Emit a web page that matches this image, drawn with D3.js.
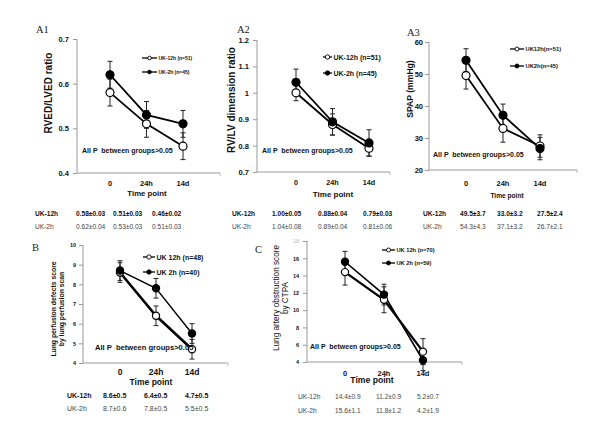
<!DOCTYPE html>
<html><head><meta charset="utf-8">
<script src="https://cdn.jsdelivr.net/npm/d3@7"></script>
<style>body{margin:0;background:#fff}svg{display:block;font-family:"Liberation Sans",Arial,sans-serif}</style>
</head><body><svg id="c" width="600" height="433"></svg>
<script>
const timePoints = ["0","24h","14d"];
// A1
const a1UK12 = [0.58,0.51,0.46], a1UK12err = [0.03,0.03,0.03];
const a1UK2 = [0.62,0.53,0.51], a1UK2err = [0.03,0.03,0.03];
const a1Ticks = [0.4,0.5,0.6,0.7];
// A2
const a2UK12 = [1.00,0.88,0.79], a2UK12err = [0.03,0.04,0.03];
const a2UK2 = [1.04,0.89,0.81], a2UK2err = [0.05,0.05,0.05];
const a2Ticks = [0.7,0.8,0.9,1,1.1,1.2];
// A3
const a3UK12 = [49.5,33.0,27.5], a3UK12err = [4.2,4.3,3.5];
const a3UK2 = [54.3,37.1,26.7], a3UK2err = [3.6,3.5,3.5];
const a3Ticks = [20,30,40,50,60];
// B
const bUK12 = [8.6,6.4,4.7], bUK12err = [0.5,0.5,0.5];
const bUK2 = [8.7,7.8,5.5], bUK2err = [0.5,0.5,0.5];
const bTicks = [4,5,6,7,8,9,10];
// C
const cUK12 = [14.4,11.2,5.2], cUK12err = [1.5,1.5,1.5];
const cUK2 = [15.6,11.8,4.2], cUK2err = [1.2,1.2,1.2];
const cTicks = [4,6,8,10,12,14,16,18];
// tables
const tA1 = [["UK-12h","0.58±0.03","0.51±0.03","0.46±0.02"],["UK-2h","0.62±0.04","0.53±0.03","0.51±0.03"]];
const tA2 = [["UK-12h","1.00±0.05","0.88±0.04","0.79±0.03"],["UK-2h","1.04±0.08","0.89±0.04","0.81±0.06"]];
const tA3 = [["UK-12h","49.5±3.7","33.0±3.2","27.5±2.4"],["UK-2h","54.3±4.3","37.1±3.2","26.7±2.1"]];
const tB = [["UK-12h","8.6±0.5","6.4±0.5","4.7±0.5"],["UK-2h","8.7±0.6","7.8±0.5","5.5±0.5"]];
const tC = [["UK-12h","14.4±0.9","11.2±0.9","5.2±0.7"],["UK-2h","15.6±1.1","11.8±1.2","4.2±1.9"]];

const svg = d3.select("#c");

function panel(o){
  const g = svg.append("g");
  const y = d3.scaleLinear().domain(o.ydom).range([o.y1,o.y0]);
  const x = d3.scalePoint().domain(timePoints).range([o.px[0],o.px[2]]);
  const ya = d3.axisLeft(y).tickValues(o.ticks).tickSize(4).tickFormat(o.fmt||d3.format(""));
  const yg = g.append("g").attr("transform",`translate(${o.ax},0)`).call(ya);
  yg.select(".domain").attr("stroke","#999").attr("d",`M0,${o.y0}V${o.y1}`);
  yg.selectAll(".tick line").attr("stroke","#999");
  yg.selectAll(".tick text").attr("font-size",o.tfs).attr("font-weight","bold").attr("fill","#111").attr("x",-o.tpad)
    .attr("font-family","'Liberation Sans',Arial,sans-serif");
  if(o.hideTop) yg.selectAll(".tick text").filter(d=>d===o.hideTop).attr("fill","#ccc");
  g.append("line").attr("x1",o.ax).attr("x2",o.xend).attr("y1",o.y1).attr("y2",o.y1).attr("stroke","#999");
  g.append("line").attr("x1",o.xend).attr("x2",o.xend).attr("y1",o.y1).attr("y2",o.y1+3).attr("stroke","#bbb");
  timePoints.forEach((t,i)=>{
    g.append("text").attr("x",x(t)).attr("y",o.tly).attr("text-anchor","middle")
     .attr("font-size",o.xfs).attr("font-weight","bold").attr("fill","#111").text(t);
  });
  g.append("text").attr("x",o.tpx).attr("y",o.tpy).attr("text-anchor","middle").attr("font-size",o.tpfs)
   .attr("font-weight","bold").attr("fill","#111").text("Time point");
  const yl = g.append("text").attr("transform",`translate(${o.ylx},${o.yly}) rotate(-90)`).attr("text-anchor","middle")
   .attr("font-size",o.ylfs).attr("font-weight",o.ylw||"bold").attr("fill","#111");
  o.ylab.forEach((s,i)=>yl.append("tspan").attr("x",0).attr("dy",i?o.ylfs*1.15:0).text(s));
  g.append("text").attr("x",o.letx).attr("y",o.lety).attr("font-family","'Liberation Serif',serif").attr("font-size",10.5).attr("fill","#222").text(o.letter);
  const series = [
    {v:o.s12,e:o.e12,fill:"#fff",w:o.w12||1.8},
    {v:o.s2,e:o.e2,fill:"#000",w:o.w2||1.8}
  ];
  series.forEach(s=>{
    s.v.forEach((v,i)=>{
      const cx=x(timePoints[i]);
      g.append("line").attr("x1",cx).attr("x2",cx).attr("y1",y(v-s.e[i])).attr("y2",y(v+s.e[i])).attr("stroke","#222").attr("stroke-width",1);
      [v-s.e[i],v+s.e[i]].forEach(w=>g.append("line").attr("x1",cx-2.5).attr("x2",cx+2.5).attr("y1",y(w)).attr("y2",y(w)).attr("stroke","#222").attr("stroke-width",1));
    });
  });
  series.forEach(s=>{
    g.append("path").attr("d",d3.line().x((d,i)=>x(timePoints[i])).y(d=>y(d))(s.v)).attr("fill","none").attr("stroke","#000").attr("stroke-width",s.w);
  });
  series.forEach(s=>{
    g.selectAll(null).data(s.v).enter().append("circle").attr("cx",(d,i)=>x(timePoints[i])).attr("cy",d=>y(d))
      .attr("r",o.r||4).attr("fill",s.fill).attr("stroke","#000").attr("stroke-width",1.2);
  });
  o.leg.forEach((l,i)=>{
    const ly=o.legy[i];
    g.append("line").attr("x1",o.legx).attr("x2",o.legx+o.legw).attr("y1",ly).attr("y2",ly).attr("stroke","#000").attr("stroke-width",1.3);
    g.append("circle").attr("cx",o.legx+o.legw/2).attr("cy",ly).attr("r",o.legr||2).attr("fill",i?"#000":"#fff").attr("stroke","#000").attr("stroke-width",0.9);
    g.append("text").attr("x",o.legx+o.legw+1.5).attr("y",ly+o.legfs*0.36).attr("font-size",o.legfs).attr("font-weight","bold").attr("fill","#111").text(l);
  });
  g.append("text").attr("x",o.px0).attr("y",o.py0).attr("font-size",o.pfs||7).attr("font-weight","bold").attr("fill","#111")
   .attr("xml:space","preserve").style("white-space","pre").text("All P  between groups>0.05");
  o.table.forEach((row,ri)=>{
    row.forEach((c,ci)=>{
      g.append("text").attr("x",o.tx[ci]).attr("y",o.ty[ri]).attr("font-size",o.tbfs||6.6)
       .attr("font-weight",(ri===0&&o.tbold)?"bold":"normal").attr("fill",(ri===0&&o.tbold)?"#111":"#444").text(c);
    });
  });
}

panel({letter:"A1",letx:36,lety:33,ydom:[0.4,0.7],ticks:a1Ticks,fmt:d3.format(".1f"),y0:39,y1:173,ax:77,xend:220,px:[110,147,183],
  tfs:7.5,tpad:8,tly:186,xfs:7.5,tpx:147,tpy:196,tpfs:7.8,ylab:["RVED/LVED ratio"],ylx:52,yly:93,ylfs:10,
  s12:a1UK12,e12:a1UK12err,s2:a1UK2,e2:a1UK2err,leg:["UK-12h (n=51)","UK-2h (n=45)"],legx:142,legw:15,legy:[58,72],legfs:5,legr:1.8,
  px0:82,py0:153,pfs:7,table:tA1,tx:[35,76,113,152],ty:[216,229],tbold:true});
panel({letter:"A2",letx:237,lety:33,ydom:[0.7,1.2],ticks:a2Ticks,fmt:d=>d===1?"1":d3.format(".1f")(d),y0:40,y1:172,ax:257,xend:390,px:[296,332,369],
  tfs:7.5,tpad:8,tly:185,xfs:7.2,tpx:333,tpy:197,tpfs:8,ylab:["RV/LV dimension ratio"],ylx:235,yly:100,ylfs:10,
  s12:a2UK12,e12:a2UK12err,s2:a2UK2,e2:a2UK2err,leg:["UK-12h (n=51)","UK-2h (n=45)"],legx:323,legw:9,legy:[57,73],legfs:7,legr:2.2,
  px0:262,py0:153,pfs:7,table:tA2,tx:[232,272,318,363],ty:[216,229],tbold:true});
panel({letter:"A3",letx:407,lety:36,ydom:[20,60],ticks:a3Ticks,y0:42,y1:170,ax:429,xend:577,px:[466,503,540],
  tfs:7.5,tpad:6,tly:186,xfs:7.5,tpx:507,tpy:198,tpfs:6.6,ylab:["SPAP (mmHg)"],ylx:413,yly:89,ylfs:8.6,
  s12:a3UK12,e12:a3UK12err,s2:a3UK2,e2:a3UK2err,leg:["UK12h(n=51)","UK2h(n=45)"],legx:510,legw:14,legy:[49,66],legfs:5.8,legr:2,
  px0:433,py0:157,pfs:7,table:tA3,tx:[423,460,497,537],ty:[216,229],tbold:true});
panel({letter:"B",letx:32,lety:251,ydom:[4,10],ticks:bTicks,y0:245,y1:363,ax:83,xend:228,px:[120,156,192],
  tfs:5.5,tpad:7,tly:375,xfs:8.5,tpx:151,tpy:385,tpfs:8.5,ylab:["Lung perfusion defects score","by lung perfusion scan"],ylx:56,yly:309,ylfs:6.8,
  s12:bUK12,e12:bUK12err,s2:bUK2,e2:bUK2err,w12:2.6,w2:1.4,leg:["UK 12h (n=48)","UK 2h  (n=40)"],legx:143,legw:12,legy:[257,272],legfs:7,legr:2.2,
  px0:95,py0:350,pfs:7.6,table:tB,tx:[67,103,144,185],ty:[398,411],tbold:true,tbfs:7,r:3.6});
panel({letter:"C",letx:255,lety:253,ydom:[4,18],ticks:cTicks,hideTop:18,y0:241,y1:362,ax:307,xend:462,px:[345,384,423],
  tfs:5.5,tpad:8,tly:376,xfs:7.5,tpx:372,tpy:383,tpfs:8.6,ylab:["Lung artery obstruction score","by CTPA"],ylx:278.5,yly:298,ylfs:8.2,ylw:"normal",
  s12:cUK12,e12:cUK12err,s2:cUK2,e2:cUK2err,w12:2.2,w2:1.6,leg:["UK 12h (n=70)","UK 2h  (n=59)"],legx:382,legw:13,legy:[250,263],legfs:5.7,legr:2,
  px0:310,py0:349,pfs:7,table:tC,tx:[298,335,376,417],ty:[399,413],tbold:false,tbfs:6.6,r:3.6});
</script></body></html>
